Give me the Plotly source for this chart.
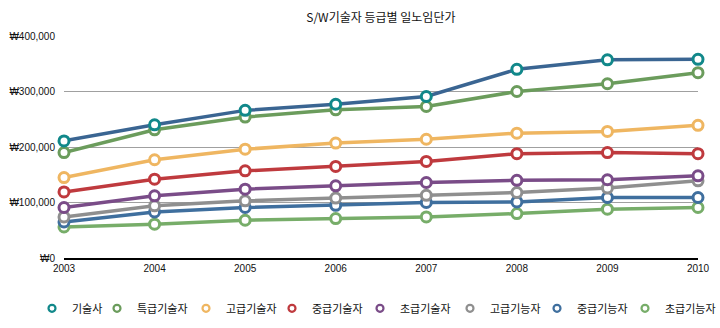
import plotly.graph_objects as go

years = ["2003", "2004", "2005", "2006", "2007", "2008", "2009", "2010"]
series_names = ["기술사", "특급기술자", "고급기술자", "중급기술자", "초급기술자", "고급기능자", "중급기능자", "초급기능자"]

v_gisulsa = [211000, 240000, 266000, 277000, 291000, 340000, 357000, 358000]
v_teukgeup = [190000, 231000, 254000, 267000, 273000, 300000, 314000, 334000]
v_gogeup = [145000, 177000, 196000, 207000, 214000, 225000, 228000, 239000]
v_junggeup = [119000, 142000, 157000, 165000, 174000, 188000, 190000, 188000]
v_chogeup = [91000, 112000, 124000, 130000, 136000, 140000, 141000, 148000]
v_gogeup_gn = [74000, 94000, 103000, 108000, 113000, 118000, 126000, 139000]
v_junggeup_gn = [65000, 83000, 91000, 95000, 100000, 101000, 109000, 109000]
v_chogeup_gn = [56000, 61000, 68000, 71000, 74000, 80000, 88000, 91000]

all_values = [v_gisulsa, v_teukgeup, v_gogeup, v_junggeup, v_chogeup,
              v_gogeup_gn, v_junggeup_gn, v_chogeup_gn]
line_colors = ["#3a6592", "#6b9c5c", "#efb661", "#bf3a3e", "#7a4c88", "#8f8f8f", "#3f6f9e", "#77ad69"]
marker_colors = ["#11888a", "#6b9c5c", "#efb661", "#bf3a3e", "#7a4c88", "#8f8f8f", "#3f6f9e", "#77ad69"]

y_ticks = [0, 100000, 200000, 300000, 400000]
y_labels = ["₩0", "₩100,000", "₩200,000", "₩300,000", "₩400,000"]

# legend entry positions (left edge of each legend box, px)
legend_left_px = [32, 97, 186, 272, 360, 450, 537, 625]

fig = go.Figure()
# draw bottom series first so top ones sit above
for i in reversed(range(len(series_names))):
    fig.add_trace(go.Scatter(
        x=list(range(len(years))), y=all_values[i], name=series_names[i],
        mode="lines+markers",
        line=dict(color=line_colors[i], width=3.5),
        marker=dict(size=10, color="white", line=dict(color=marker_colors[i], width=3)),
        cliponaxis=False, showlegend=False,
    ))

legend_layouts = {}
for i in range(len(series_names)):
    lname = "legend" if i == 0 else f"legend{i + 1}"
    fig.add_trace(go.Scatter(
        x=[None], y=[None], name=series_names[i], mode="markers",
        marker=dict(size=7, color="white", line=dict(color=marker_colors[i], width=2.2)),
        showlegend=True, legend=lname,
    ))
    legend_layouts[lname] = dict(
        orientation="h", xref="container", yref="container",
        x=legend_left_px[i] / 720, xanchor="left", y=0.06, yanchor="middle",
        font=dict(size=11, family="Noto Sans CJK KR", color="#111"),
        itemwidth=30, bgcolor="rgba(0,0,0,0)",
    )

fig.update_layout(
    width=720, height=328,
    margin=dict(l=64, r=22, t=36, b=70, autoexpand=False),
    paper_bgcolor="white", plot_bgcolor="white",
    font=dict(family="Noto Sans CJK KR, Noto Sans, sans-serif", color="#111", size=10),
    title=dict(text="S/W기술자 등급별 일노임단가", x=0.529, xanchor="center", y=0.945, yanchor="middle",
               font=dict(size=12, color="#111", family="Noto Sans CJK KR")),
    showlegend=True,
    xaxis=dict(tickmode="array", tickvals=list(range(len(years))), ticktext=years,
               range=[0, len(years) - 1], showgrid=False, zeroline=False,
               showline=True, linecolor="#000", linewidth=1.5, ticks="",
               tickfont=dict(family="Liberation Sans, Arial", size=10)),
    yaxis=dict(tickmode="array", tickvals=y_ticks, ticktext=y_labels, range=[0, 400000],
               showgrid=True, gridcolor="#a0a0a0", gridwidth=1, zeroline=False,
               showline=False, ticks="", ticklabelstandoff=8,
               tickfont=dict(family="Liberation Sans, Arial", size=10)),
    **legend_layouts,
)

fig.write_html("out.html")
